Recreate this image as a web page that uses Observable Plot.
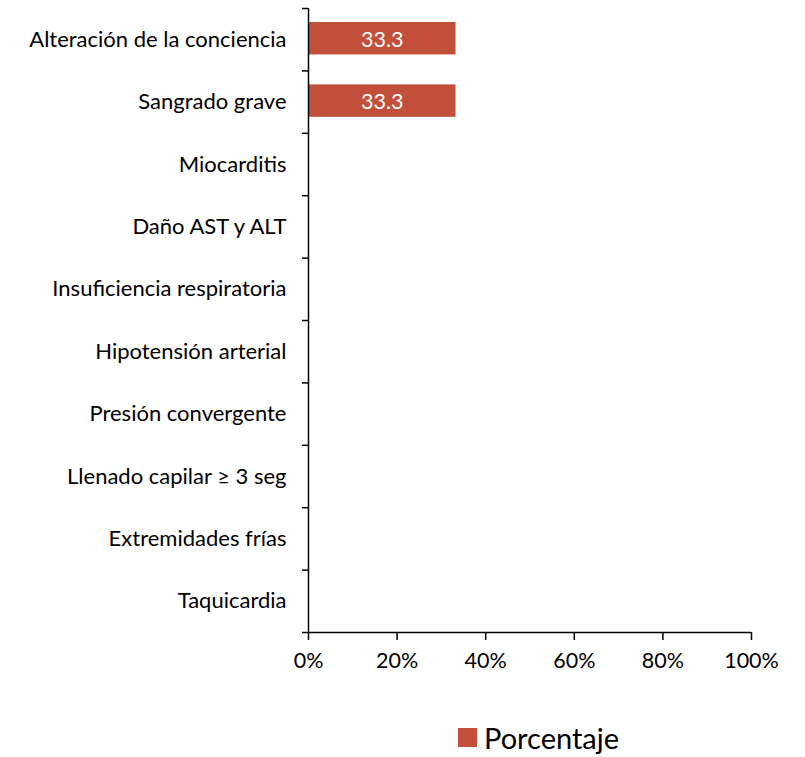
<!DOCTYPE html>
<html>
<head>
<meta charset="utf-8">
<script src="https://cdn.jsdelivr.net/npm/d3@7"></script>
<script src="https://cdn.jsdelivr.net/npm/@observablehq/plot@0.6"></script>
<style>
  body { margin: 0; background: #fff; font-family: Lato, sans-serif; }
  #legend { display: flex; align-items: center; justify-content: flex-start; padding-left: 458px; height: 40px; margin-top: 27px; font-size: 29px; color: #000; }
  #legend .sw { width: 19px; height: 19px; background: #C14F3A; margin-right: 7px; }
</style>
</head>
<body>
<div id="chart"></div>
<div id="legend"><span class="sw"></span><span>Porcentaje</span></div>
<script>
const categories = [
  "Alteración de la conciencia",
  "Sangrado grave",
  "Miocarditis",
  "Daño AST y ALT",
  "Insuficiencia respiratoria",
  "Hipotensión arterial",
  "Presión convergente",
  "Llenado capilar ≥ 3 seg",
  "Extremidades frías",
  "Taquicardia"
];
const values = [33.3, 33.3, 0, 0, 0, 0, 0, 0, 0, 0];
const xTicks = [0, 20, 40, 60, 80, 100];

const data = categories.map((c, i) => ({category: c, index: i, value: values[i]}));
const bars = data.filter(d => d.value > 0);

const chart = Plot.plot({
  width: 805,
  height: 690,
  marginLeft: 308,
  marginRight: 54,
  marginTop: 8,
  marginBottom: 58,
  style: {fontFamily: "Lato, sans-serif", fontSize: "21px", color: "#000", background: "#fff"},
  x: {domain: [0, 100], label: null},
  y: {domain: [0, categories.length], reverse: true, label: null},
  marks: [
    Plot.rectX(bars, {x1: 0, x2: "value", y1: "index", y2: d => d.index + 1, insetTop: 14, insetBottom: 16, fill: "#C14F3A"}),
    Plot.text(bars, {x: d => d.value / 2, y: d => d.index + 0.5, text: d => d.value.toFixed(1), fill: "white", fontSize: 21.5, fontFamily: "Lato, sans-serif"}),
    Plot.axisY({ticks: d3.range(categories.length + 1), tickSize: 6, tickFormat: () => "", label: null, stroke: "#000", strokeWidth: 1.5, strokeOpacity: 1}),
    Plot.axisY({ticks: d3.range(categories.length).map(i => i + 0.5), tickSize: 0, tickPadding: 22, label: null, tickFormat: v => categories[Math.floor(v)], fontSize: 22, fill: "#000"}),
    Plot.axisX({ticks: xTicks, tickSize: 8, tickPadding: 12, label: null, tickFormat: d => d + "%", fontSize: 21.5, fill: "#000", stroke: "#000", strokeWidth: 1.5, strokeOpacity: 1}),
    Plot.ruleX([0], {y1: 0, y2: categories.length, stroke: "#000", strokeWidth: 1.5}),
    Plot.ruleY([categories.length], {x1: 0, x2: 100, stroke: "#000", strokeWidth: 1.5})
  ]
});
document.getElementById("chart").appendChild(chart);
</script>
</body>
</html>
